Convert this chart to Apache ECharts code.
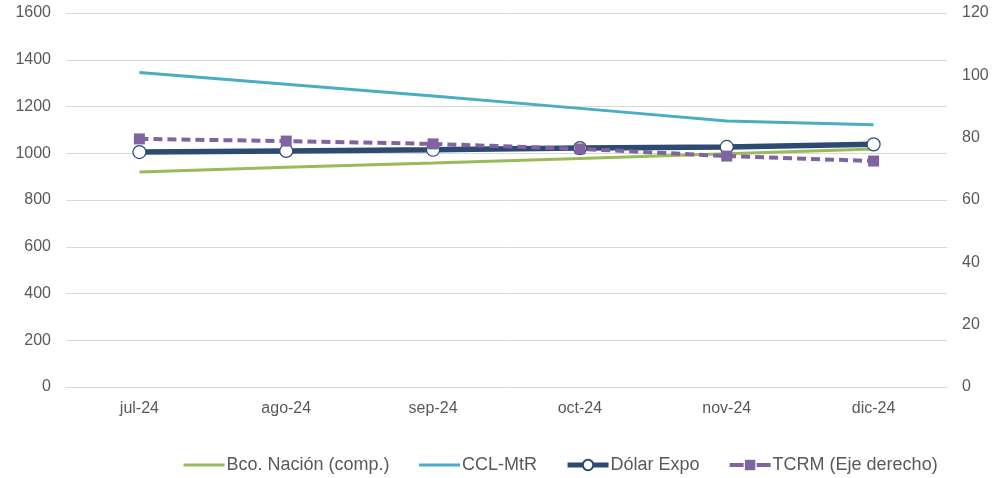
<!DOCTYPE html>
<html>
<head>
<meta charset="utf-8">
<script src="https://cdn.jsdelivr.net/npm/echarts@6/dist/echarts.min.js"></script>
<style>
html,body{margin:0;padding:0;background:#fff;}
#c{width:994px;height:478px;}
</style>
</head>
<body>
<div id="c"></div>
<script>
const categories = ['jul-24','ago-24','sep-24','oct-24','nov-24','dic-24'];
const bcoNacion = [920, 940, 958, 978, 998, 1018];
const cclMtr = [1345, 1295, 1245, 1192, 1138, 1122];
const dolarExpo = [1005, 1010, 1015, 1022, 1027, 1038];
const tcrm = [79.6, 78.9, 78.0, 76.4, 74.1, 72.5];
const leftTicks = {min: 0, max: 1600, interval: 200};
const rightTicks = {min: 0, max: 120, interval: 20};

const chart = echarts.init(document.getElementById('c'), null, {renderer: 'canvas'});
const font = 'Arial, "Liberation Sans", sans-serif';
const labelColor = '#595959';
const gridColor = '#d9d9d9';

chart.setOption({
  animation: false,
  backgroundColor: '#fff',
  textStyle: {fontFamily: font},
  grid: {left: 66, right: 47, top: 13, bottom: 91, containLabel: false},
  legend: {
    left: 182, top: 456, padding: 0,
    itemWidth: 41, itemHeight: 13, itemGap: 28,
    textStyle: {fontSize: 18, color: labelColor, fontFamily: font, padding: [0,0,0,-3]},
    data: [
      {name: 'Bco. Nación (comp.)', itemStyle: {opacity: 0}, lineStyle: {width: 3}},
      {name: 'CCL-MtR', itemStyle: {opacity: 0}, lineStyle: {width: 3}},
      {name: 'Dólar Expo', lineStyle: {width: 5}},
      {name: 'TCRM (Eje derecho)', lineStyle: {width: 4, type: [14, 13]}}
    ]
  },
  xAxis: {
    type: 'category',
    data: categories,
    boundaryGap: true,
    axisLine: {show: true, lineStyle: {color: gridColor, width: 1}},
    axisTick: {show: false},
    axisLabel: {color: labelColor, fontSize: 16, margin: 14, fontFamily: font}
  },
  yAxis: [
    {
      type: 'value', min: leftTicks.min, max: leftTicks.max, interval: leftTicks.interval,
      axisLine: {show: false}, axisTick: {show: false},
      splitLine: {lineStyle: {color: gridColor, width: 1}},
      axisLabel: {color: labelColor, fontSize: 16, margin: 15, fontFamily: font,
        formatter: function (v) { return String(v); }}
    },
    {
      type: 'value', min: rightTicks.min, max: rightTicks.max, interval: rightTicks.interval,
      axisLine: {show: false}, axisTick: {show: false},
      splitLine: {show: false},
      axisLabel: {color: labelColor, fontSize: 16, margin: 15, fontFamily: font,
        formatter: function (v) { return String(v); }}
    }
  ],
  series: [
    {
      name: 'Bco. Nación (comp.)', type: 'line', data: bcoNacion,
      yAxisIndex: 0, symbol: 'none', showSymbol: false,
      lineStyle: {color: '#9BBB59', width: 3},
      itemStyle: {color: '#9BBB59'}
    },
    {
      name: 'CCL-MtR', type: 'line', data: cclMtr,
      yAxisIndex: 0, symbol: 'none', showSymbol: false,
      lineStyle: {color: '#4BACC6', width: 3},
      itemStyle: {color: '#4BACC6'}
    },
    {
      name: 'Dólar Expo', type: 'line', data: dolarExpo,
      yAxisIndex: 0, symbol: 'circle', symbolSize: 13,
      lineStyle: {color: '#2C4A72', width: 5.5},
      itemStyle: {color: '#ffffff', borderColor: '#2C4A72', borderWidth: 1.2}
    },
    {
      name: 'TCRM (Eje derecho)', type: 'line', data: tcrm,
      yAxisIndex: 1, symbol: 'rect', symbolSize: 11,
      lineStyle: {color: '#8064A2', width: 4, type: [9, 5]},
      itemStyle: {color: '#8064A2'}
    }
  ]
});
</script>
</body>
</html>
